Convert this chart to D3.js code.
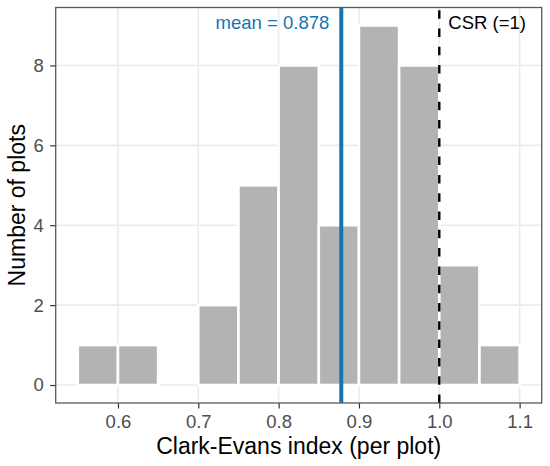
<!DOCTYPE html>
<html>
<head>
<meta charset="utf-8">
<script src="https://cdn.jsdelivr.net/npm/d3@7"></script>
<style>
  body { margin: 0; background: #fff; }
  text { font-family: "Liberation Sans", Arial, sans-serif; }
</style>
</head>
<body>
<div id="chart"></div>
<script>
// Histogram data (bin width 0.05)
var binStarts = [0.55, 0.60, 0.65, 0.70, 0.75, 0.80, 0.85, 0.90, 0.95, 1.00, 1.05];
var counts    = [1, 1, 0, 2, 5, 8, 4, 9, 8, 3, 1];
var binWidth = 0.05;
var xTicks = [0.6, 0.7, 0.8, 0.9, 1.0, 1.1];
var yTicks = [0, 2, 4, 6, 8];
var meanValue = 0.878;
var csrValue = 1;

var svgWidth = 550;
var svgHeight = 466;
var margin = { top: 7.5, right: 8.3, bottom: 63, left: 55.7 };
var width = svgWidth - margin.left - margin.right;
var height = svgHeight - margin.top - margin.bottom;

var svg = d3.select("#chart")
  .append("svg")
  .attr("width", svgWidth)
  .attr("height", svgHeight);

var chartGroup = svg.append("g")
  .attr("transform", `translate(${margin.left}, ${margin.top})`);

// Scales with ggplot-like 5% expansion
var xMin = 0.55, xMax = 1.1;
var xPad = (xMax - xMin) * 0.05;
var xScale = d3.scaleLinear()
  .domain([xMin - xPad, xMax + xPad])
  .range([0, width]);

var yMax = d3.max(counts);
var yScale = d3.scaleLinear()
  .domain([-yMax * 0.05, yMax * 1.05])
  .range([height, 0]);

// Grid lines
chartGroup.append("g").selectAll("line.gx")
  .data(xTicks)
  .enter()
  .append("line")
  .attr("x1", d => xScale(d))
  .attr("x2", d => xScale(d))
  .attr("y1", 0)
  .attr("y2", height)
  .attr("stroke", "#EBEBEB")
  .attr("stroke-width", 1.6);

chartGroup.append("g").selectAll("line.gy")
  .data(yTicks)
  .enter()
  .append("line")
  .attr("x1", 0)
  .attr("x2", width)
  .attr("y1", d => yScale(d))
  .attr("y2", d => yScale(d))
  .attr("stroke", "#EBEBEB")
  .attr("stroke-width", 1.6);

// Bars
var bins = binStarts.map((s, i) => ({ x0: s, x1: s + binWidth, n: counts[i] }));
chartGroup.append("g").selectAll("rect")
  .data(bins.filter(d => d.n > 0))
  .enter()
  .append("rect")
  .attr("x", d => xScale(d.x0))
  .attr("width", d => xScale(d.x1) - xScale(d.x0))
  .attr("y", d => yScale(d.n))
  .attr("height", d => yScale(0) - yScale(d.n))
  .attr("fill", "#B3B3B3")
  .attr("stroke", "#FFFFFF")
  .attr("stroke-width", 2.6);

// Mean line
chartGroup.append("line")
  .attr("x1", xScale(meanValue))
  .attr("x2", xScale(meanValue))
  .attr("y1", 0)
  .attr("y2", height)
  .attr("stroke", "#1674B1")
  .attr("stroke-width", 4);

// CSR line (drawn bottom to top, like ggplot)
chartGroup.append("line")
  .attr("x1", xScale(csrValue))
  .attr("x2", xScale(csrValue))
  .attr("y1", height)
  .attr("y2", 0)
  .attr("stroke", "#000")
  .attr("stroke-width", 2.4)
  .attr("stroke-dasharray", "8.5,9.8");

// Annotations
chartGroup.append("text")
  .attr("x", xScale(meanValue) - 12)
  .attr("y", 21.5)
  .attr("text-anchor", "end")
  .attr("fill", "#1674B1")
  .style("font-size", "18.5px")
  .text("mean = " + meanValue.toFixed(3));

chartGroup.append("text")
  .attr("x", xScale(csrValue) + 9)
  .attr("y", 21.5)
  .attr("fill", "#000")
  .style("font-size", "18.5px")
  .text("CSR (=1)");

// Axes
var bottomAxis = d3.axisBottom(xScale)
  .tickValues(xTicks)
  .tickFormat(d3.format(".1f"))
  .tickSize(5.5)
  .tickPadding(6.5);
var leftAxis = d3.axisLeft(yScale)
  .tickValues(yTicks)
  .tickSize(5.5)
  .tickPadding(6.5);

var xAxisG = chartGroup.append("g")
  .attr("transform", `translate(0, ${height})`)
  .call(bottomAxis);
var yAxisG = chartGroup.append("g")
  .call(leftAxis);

[xAxisG, yAxisG].forEach(function(g) {
  g.select(".domain").remove();
  g.selectAll(".tick line").attr("stroke", "#333").attr("stroke-width", 1.2);
  g.selectAll(".tick text")
    .attr("fill", "#4D4D4D")
    .style("font-size", "18.5px")
    .style("font-family", "'Liberation Sans', Arial, sans-serif");
});

// Panel border
chartGroup.append("rect")
  .attr("x", 0)
  .attr("y", 0)
  .attr("width", width)
  .attr("height", height)
  .attr("fill", "none")
  .attr("stroke", "#595959")
  .attr("stroke-width", 1.3);

// Axis titles
svg.append("text")
  .attr("x", margin.left + width / 2)
  .attr("y", 454)
  .attr("text-anchor", "middle")
  .attr("fill", "#000")
  .style("font-size", "23px")
  .text("Clark-Evans index (per plot)");

svg.append("text")
  .attr("transform", `translate(25, ${margin.top + height / 2}) rotate(-90)`)
  .attr("text-anchor", "middle")
  .attr("fill", "#000")
  .style("font-size", "23px")
  .text("Number of plots");
</script>
</body>
</html>
